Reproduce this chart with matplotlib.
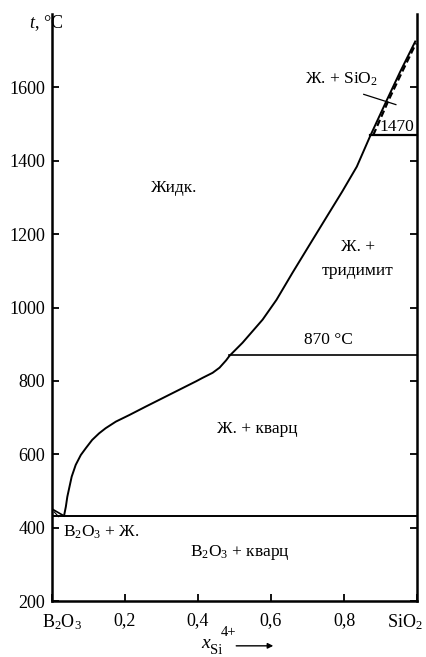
import matplotlib
matplotlib.use('Agg')
import matplotlib.pyplot as plt
from matplotlib.transforms import ScaledTranslation
from matplotlib.patches import FancyArrowPatch

plt.rcParams['font.family'] = ['Liberation Serif', 'DejaVu Serif']
plt.rcParams['mathtext.fontset'] = 'custom'
plt.rcParams['mathtext.rm'] = 'Liberation Serif'
plt.rcParams['mathtext.it'] = 'Liberation Serif:italic'

# liquidus of SiO2 (mole fraction Si4+, t in C)
liq_x = [0.033, 0.038, 0.042, 0.047, 0.054, 0.065, 0.079, 0.093, 0.110, 0.129,
         0.147, 0.175, 0.212, 0.257, 0.303, 0.349, 0.395, 0.412, 0.440, 0.459,
         0.477, 0.486, 0.522, 0.577, 0.615, 0.659, 0.705, 0.753, 0.795, 0.835,
         0.871, 0.918, 0.953, 0.995]
liq_t = [432, 457, 484, 507, 539, 571, 598, 617, 639, 657,
         671, 689, 707, 730, 753, 776, 799, 808, 822, 836,
         856, 868, 904, 967, 1021, 1095, 1170, 1248, 1316, 1384,
         1466, 1567, 1641, 1725]
# B2O3 branch
b_x = [0.0, 0.033]
b_t = [451, 432]
# dashed branch near SiO2
dash_x = [0.880, 0.922, 0.958, 0.997]
dash_t = [1470, 1565, 1640, 1720]
eut_t = 432
trid_t = 870
crist_t = 1470
junction_x = 0.486
crist_x = 0.871

xticks = [0, 0.2, 0.4, 0.6, 0.8, 1.0]
xlabels = ['B$_2$O$_3$', '0,2', '0,4', '0,6', '0,8', 'SiO$_2$']
yticks = [200, 400, 600, 800, 1000, 1200, 1400, 1600]

fig = plt.figure(figsize=(4.26, 6.57), dpi=100)
ax = fig.add_axes([0.122, 0.0852, 0.857, 0.8935])

ax.plot(liq_x, liq_t, color='black', lw=1.4)
ax.plot(b_x, b_t, color='black', lw=1.2)
ax.plot(dash_x, dash_t, color='black', lw=1.6, ls=(0, (3, 1.5)))
ax.plot([0, 1], [eut_t, eut_t], color='black', lw=1.4)
ax.plot([junction_x, 1], [trid_t, trid_t], color='black', lw=1.2)
ax.plot([crist_x, 1], [crist_t, crist_t], color='black', lw=1.6)
# pointer lines
ax.plot([0.854, 0.942], [1581, 1553], color='black', lw=0.9)
ax.plot([0.006, 0.018], [443, 430], color='black', lw=0.8)

ax.set_xlim(0, 1)
ax.set_ylim(200, 1800)
ax.set_xticks(xticks)
ax.set_xticklabels(xlabels)
ax.set_yticks(yticks)
ax.tick_params(axis='both', direction='in', length=5, width=1.3, labelsize=13, pad=8)
ax.tick_params(axis='y', right=True, pad=5)
ax.spines['top'].set_visible(False)
for s in ['left', 'right', 'bottom']:
    ax.spines[s].set_linewidth(1.8)

labs = ax.get_xticklabels()
labs[0].set_transform(labs[0].get_transform() + ScaledTranslation(0.10, 0, fig.dpi_scale_trans))
labs[-1].set_transform(labs[-1].get_transform() + ScaledTranslation(-0.12, 0, fig.dpi_scale_trans))

fs = 12.5
ax.text(0.335, 1327, 'Жидк.', fontsize=fs, ha='center', va='center')
ax.text(0.794, 1621, 'Ж. + SiO$_2$', fontsize=fs, ha='center', va='center')
ax.text(0.945, 1492, '1470', fontsize=fs, ha='center', va='center')
ax.text(0.838, 1166, 'Ж. +', fontsize=fs, ha='center', va='center')
ax.text(0.838, 1100, 'тридимит', fontsize=fs, ha='center', va='center')
ax.text(0.757, 912, '870 °C', fontsize=fs, ha='center', va='center')
ax.text(0.563, 669, 'Ж. + кварц', fontsize=fs, ha='center', va='center')
ax.text(0.03, 388, 'B$_2$O$_3$ + Ж.', fontsize=fs, ha='left', va='center')
ax.text(0.516, 331, 'B$_2$O$_3$ + кварц', fontsize=fs, ha='center', va='center')

fig.text(0.068, 0.965, '$t$, °C', fontsize=13, ha='left', va='center')
fig.text(0.472, 0.021, '$x$', fontsize=14, ha='left', va='center')
fig.text(0.494, 0.010, 'Si', fontsize=10.5, ha='left', va='center')
fig.text(0.519, 0.038, '4+', fontsize=10.5, ha='left', va='center')
fig.add_artist(FancyArrowPatch((0.548, 0.017), (0.648, 0.017),
               transform=fig.transFigure, arrowstyle='-|>', mutation_scale=8,
               color='black', lw=1.0))

fig.savefig('out.png', dpi=100)
